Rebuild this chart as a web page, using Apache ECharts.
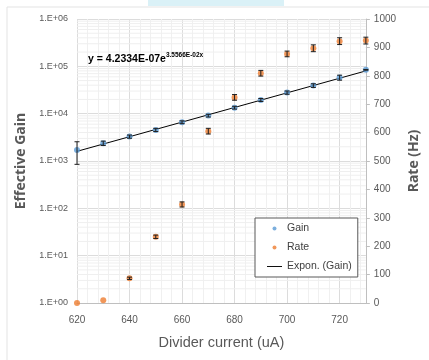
<!DOCTYPE html>
<html><head><meta charset="utf-8">
<script src="https://cdn.jsdelivr.net/npm/echarts@6/dist/echarts.min.js"></script>
<style>html,body{margin:0;padding:0;background:#fff}#c{width:429px;height:360px}</style>
</head><body><div id="c"></div>
<script>
const current = [620, 630, 640, 650, 660, 670, 680, 690, 700, 710, 720, 730];
const gain = [1700, 2380, 3280, 4540, 6600, 9100, 13400, 19500, 27900, 39300, 58000, 84300];
const gainErr = [850, 250, 250, 350, 450, 600, 900, 1400, 2200, 3500, 7000, 1500];
const rate = [0, 10, 87, 233, 347, 605, 724, 809, 877, 897, 922, 924];
const rateErr = [0, 0, 4, 6, 9, 10, 10, 10, 10, 12, 12, 12];
const trendX = [620, 730];
const trendY = [1600, 80000];
const gainTickLabels = ['1.E+00', '1.E+01', '1.E+02', '1.E+03', '1.E+04', '1.E+05', '1.E+06'];
const equationMain = 'y = 4.2334E-07e';
const equationExp = '3.5566E-02x';

const narrow = '"Liberation Sans", Arial, sans-serif';
const bold = '"Open Sans", "DejaVu Sans", sans-serif';
const txt = '#595959';

const minorLog = [];
for (let n = 0; n < 6; n++) for (let k = 2; k <= 9; k++) minorLog.push([620, k * Math.pow(10, n)]);

function errBar(color) {
  return function (params, api) {
    const x = api.value(0), v = api.value(1), e = api.value(2);
    if (!e) return null;
    const lo = api.coord([x, v - e]), hi = api.coord([x, v + e]);
    const w = 2.5;
    return {
      type: 'group',
      children: [
        { type: 'line', shape: { x1: lo[0], y1: lo[1], x2: hi[0], y2: hi[1] }, style: { stroke: color, lineWidth: 1 } },
        { type: 'line', shape: { x1: lo[0] - w, y1: lo[1], x2: lo[0] + w, y2: lo[1] }, style: { stroke: color, lineWidth: 1 } },
        { type: 'line', shape: { x1: hi[0] - w, y1: hi[1], x2: hi[0] + w, y2: hi[1] }, style: { stroke: color, lineWidth: 1 } }
      ]
    };
  };
}

const chart = echarts.init(document.getElementById('c'), null, { renderer: 'canvas' });
chart.setOption({
  animation: false,
  backgroundColor: '#fff',
  graphic: [
    { type: 'rect', shape: { x: 148, y: 0, width: 136, height: 6 }, style: { fill: '#daf1f7' }, z: -1 },
    { type: 'line', shape: { x1: 7, y1: 7, x2: 429, y2: 7 }, style: { stroke: '#e3e3e3', lineWidth: 1 }, z: -1 },
    { type: 'line', shape: { x1: 7, y1: 7, x2: 7, y2: 360 }, style: { stroke: '#e3e3e3', lineWidth: 1 }, z: -1 },
    {
      type: 'text', left: 88, top: 52, z: 10,
      style: {
        text: '{a|' + equationMain + '}{b|' + equationExp + '}',
        rich: {
          a: { fontFamily: narrow, fontWeight: 'bold', fontSize: 10.5, fill: '#000', verticalAlign: 'bottom' },
          b: { fontFamily: narrow, fontWeight: 'bold', fontSize: 6.5, fill: '#000', verticalAlign: 'top', padding: [0, 0, 6, 0] }
        }
      }
    }
  ],
  grid: { left: 77, right: 62, top: 19, bottom: 57, containLabel: false },
  legend: {
    left: 255, top: 218, orient: 'vertical',
    backgroundColor: '#fff',
    borderColor: '#595959', borderWidth: 1, borderRadius: 0,
    padding: [5, 6, 5, 12],
    itemGap: 8, itemWidth: 15, itemHeight: 4,
    textStyle: { fontFamily: narrow, fontSize: 10.5, color: '#404040' },
    data: [
      { name: 'Gain', icon: 'circle' },
      { name: 'Rate', icon: 'circle' },
      { name: 'Expon. (Gain)', icon: 'path://M0,0H16V1H0Z' }
    ]
  },
  xAxis: {
    type: 'value', min: 620, max: 730, interval: 20,
    name: 'Divider current (uA)', nameLocation: 'middle', nameGap: 32,
    nameTextStyle: { fontFamily: narrow, fontSize: 14.5, color: txt },
    axisLine: { show: true, onZero: false, lineStyle: { color: '#bfbfbf' } },
    axisTick: { show: false },
    axisLabel: { showMaxLabel: false, margin: 12, fontFamily: narrow, fontSize: 10, color: txt },
    splitLine: { show: true, lineStyle: { color: '#dcdcdc' } },
    minorTick: { show: false, splitNumber: 5 },
    minorSplitLine: { show: true, lineStyle: { color: '#f0f0f0' } }
  },
  yAxis: [
    {
      type: 'log', logBase: 10, min: 1, max: 1e6,
      name: 'Effective Gain', nameLocation: 'middle', nameGap: 42,
      nameTextStyle: { fontFamily: bold, fontWeight: 'bold', fontSize: 14, color: txt },
      axisLine: { show: false },
      axisTick: { show: false },
      axisLabel: {
        margin: 9, fontFamily: narrow, fontSize: 9, color: txt,
        formatter: function (v) { return gainTickLabels[Math.round(Math.log10(v))]; }
      },
      splitLine: { show: true, lineStyle: { color: '#dcdcdc' } }
    },
    {
      type: 'value', min: 0, max: 1000, interval: 100, position: 'right',
      name: 'Rate (Hz)', nameLocation: 'middle', nameGap: 38,
      nameTextStyle: { fontFamily: bold, fontWeight: 'bold', fontSize: 14, color: txt },
      axisLine: { show: true, lineStyle: { color: '#bfbfbf' } },
      axisTick: { show: true, length: 4, lineStyle: { color: '#bfbfbf' } },
      axisLabel: { margin: 8, fontFamily: narrow, fontSize: 10, color: txt, formatter: function (v) { return String(v); } },
      splitLine: { show: false }
    }
  ],
  series: [
    {
      type: 'custom', name: 'minor', silent: true, z: 1, xAxisIndex: 0, yAxisIndex: 0,
      data: minorLog,
      renderItem: function (params, api) {
        const y = api.coord([620, api.value(1)])[1];
        const cs = params.coordSys;
        return { type: 'line', shape: { x1: cs.x, y1: y, x2: cs.x + cs.width, y2: y }, style: { stroke: '#efefef', lineWidth: 1 } };
      }
    },
    {
      type: 'line', name: 'Expon. (Gain)', yAxisIndex: 0, z: 3,
      data: trendX.map((x, i) => [x, trendY[i]]),
      showSymbol: false, symbol: 'none',
      lineStyle: { color: '#000', width: 1 }, itemStyle: { color: '#000' }
    },
    {
      type: 'scatter', name: 'Gain', yAxisIndex: 0, z: 4,
      data: current.map((x, i) => [x, gain[i]]),
      symbol: 'circle', symbolSize: 6, itemStyle: { color: '#5b9bd5' }
    },
    {
      type: 'scatter', name: 'Rate', yAxisIndex: 1, z: 4,
      data: current.map((x, i) => [x, rate[i]]),
      symbol: 'circle', symbolSize: 6, itemStyle: { color: '#ed7d31' }
    },
    {
      type: 'custom', name: 'gainErr', yAxisIndex: 0, z: 5, silent: true,
      data: current.map((x, i) => [x, gain[i], gainErr[i]]),
      renderItem: errBar('#1f1f1f')
    },
    {
      type: 'custom', name: 'rateErr', yAxisIndex: 1, z: 5, silent: true,
      data: current.map((x, i) => [x, rate[i], rateErr[i]]),
      renderItem: errBar('#1f1f1f')
    }
  ]
});
</script></body></html>
